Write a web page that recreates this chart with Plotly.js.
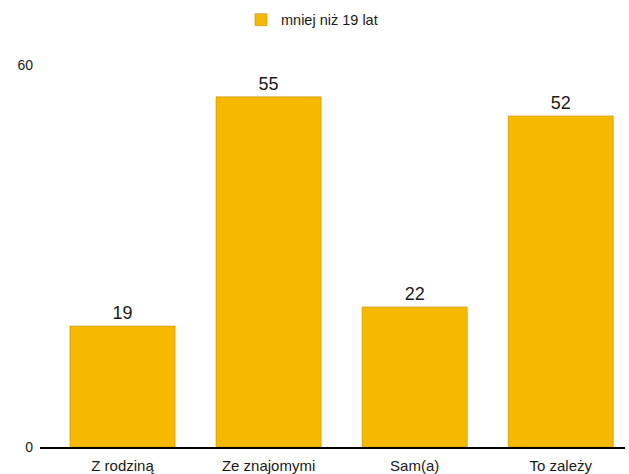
<!DOCTYPE html>
<html>
<head>
<meta charset="utf-8">
<script src="https://cdn.plot.ly/plotly-3.0.1.min.js"></script>
<style>html,body{margin:0;padding:0;background:#fff;}#chart{width:629px;height:474px;}</style>
</head>
<body>
<div id="chart"></div>
<script>
const categories = ["Z rodziną", "Ze znajomymi", "Sam(a)", "To zależy"];
const values = [19, 55, 22, 52];
const seriesName = "mniej niż 19 lat";
const yTicks = [0, 60];

const trace = {
  type: "bar",
  x: categories,
  y: values,
  name: seriesName,
  text: values.map(String),
  textposition: "outside",
  cliponaxis: false,
  textfont: {family: "Liberation Sans, Arial, sans-serif", size: 18, color: "#1a1a1a"},
  marker: {color: "#F7B900", line: {color: "rgba(190,140,0,0.55)", width: 1}},
  showlegend: true
};

const layout = {
  width: 629,
  height: 474,
  margin: {l: 40, r: 4, t: 65, b: 27},
  paper_bgcolor: "#fff",
  plot_bgcolor: "#fff",
  font: {family: "Liberation Sans, Arial, sans-serif", size: 14, color: "#1a1a1a"},
  bargap: 0.28,
  showlegend: true,
  legend: {orientation: "h", x: 241 / 629, xref: "container", xanchor: "left",
           y: 0.992, yref: "container", yanchor: "top",
           font: {size: 14.5, color: "#1a1a1a"}, itemwidth: 30},
  xaxis: {
    type: "category",
    range: [-0.565, 3.44],
    showline: true, linecolor: "#000", linewidth: 1.5,
    showgrid: false, zeroline: false, ticks: "",
    ticklabelstandoff: 4,
    tickfont: {size: 15, color: "#1a1a1a"},
    fixedrange: true
  },
  yaxis: {
    range: [0, 60],
    tickvals: yTicks,
    ticktext: yTicks.map(String),
    showline: false, showgrid: false, zeroline: false, ticks: "",
    ticklabelstandoff: 6,
    tickfont: {size: 14, color: "#1a1a1a"},
    fixedrange: true
  }
};

Plotly.newPlot("chart", [trace], layout, {displayModeBar: false, staticPlot: true});
</script>
</body>
</html>
